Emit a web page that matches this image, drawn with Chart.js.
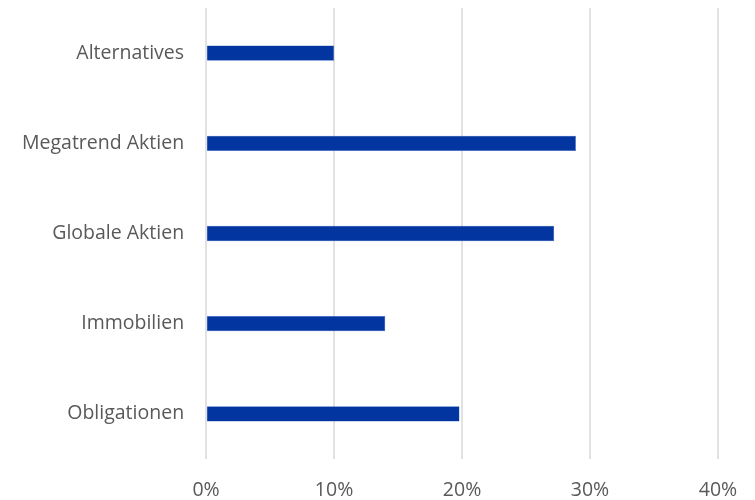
<!DOCTYPE html>
<html>
<head>
<meta charset="utf-8">
<script src="https://cdn.jsdelivr.net/npm/chart.js@4/dist/chart.umd.min.js"></script>
<style>
  html, body { margin: 0; padding: 0; background: #fff; }
  #wrap { width: 755px; height: 500px; }
</style>
</head>
<body>
<div id="wrap"><canvas id="myChart"></canvas></div>
<script>
// categories top to bottom
const categories = ['Alternatives', 'Megatrend Aktien', 'Globale Aktien', 'Immobilien', 'Obligationen'];
// share in percent
const shares = [10.0, 28.9, 27.2, 14.0, 19.8];
// x axis ticks
const xTicks = [0, 10, 20, 30, 40];

Chart.defaults.font.family = "'Open Sans', 'Noto Sans', sans-serif";
Chart.defaults.font.size = 19.5;
Chart.defaults.color = '#595959';

const config = {
    type: 'bar',
    data: {
        labels: categories,
        datasets: [{
            data: shares,
            backgroundColor: '#0335a0',
            borderColor: '#3a62c0',
            borderWidth: 0.5,
            barPercentage: 0.17,
            categoryPercentage: 1.0
        }]
    },
    options: {
        indexAxis: 'y',
        responsive: true,
        maintainAspectRatio: false,
        animation: false,
        layout: {
            padding: { top: 8, right: 37, bottom: 0, left: 0 }
        },
        scales: {
            x: {
                min: xTicks[0],
                max: xTicks[xTicks.length - 1],
                afterBuildTicks: axis => {
                    axis.ticks = xTicks.map(v => ({ value: v }));
                },
                ticks: {
                    padding: 22,
                    font: { lineHeight: 1.0 },
                    callback: v => v + '%'
                },
                grid: {
                    color: '#e2e2e2',
                    lineWidth: 2,
                    drawTicks: false
                },
                border: { display: false },
                afterFit: axis => {
                    axis.height = 41;
                    axis.paddingLeft = 0;
                    axis.paddingRight = 0;
                }
            },
            y: {
                ticks: { padding: 22 },
                grid: { display: false, drawTicks: false },
                border: { display: false },
                // no extra top/bottom room for the labels, the bars have offset anyway
                afterFit: axis => {
                    axis.paddingTop = 0;
                    axis.paddingBottom = 0;
                }
            }
        },
        plugins: {
            legend: { display: false },
            tooltip: { enabled: false }
        }
    }
};

new Chart(document.getElementById('myChart'), config);
</script>
</body>
</html>
